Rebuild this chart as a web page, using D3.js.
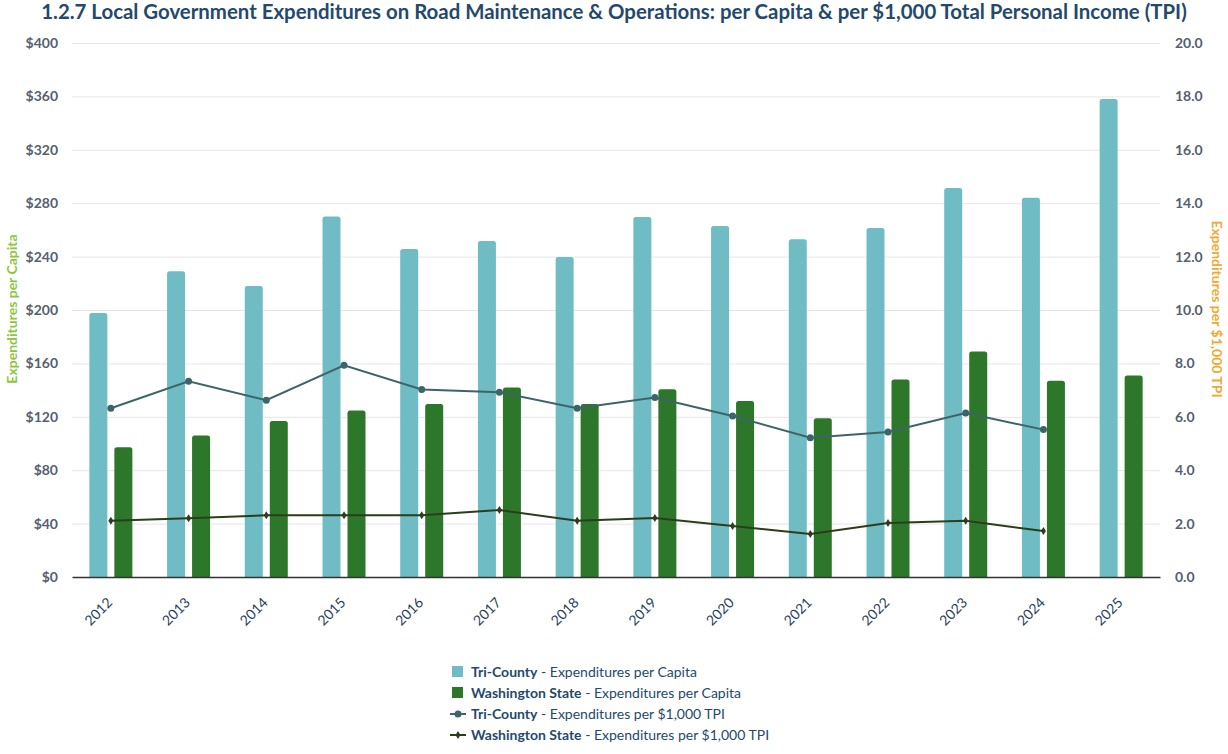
<!DOCTYPE html>
<html>
<head>
<meta charset="utf-8">
<script src="https://cdn.jsdelivr.net/npm/d3@7"></script>
<style>
  html, body { margin: 0; padding: 0; background: #fff; }
  svg { display: block; font-family: Lato, "Open Sans", sans-serif; }
</style>
</head>
<body>
<svg id="chart" width="1228" height="754"></svg>
<script>
const years = ["2012","2013","2014","2015","2016","2017","2018","2019","2020","2021","2022","2023","2024","2025"];
const triCountyPerCapita = [197.8, 229, 218, 270, 245.7, 251.7, 239.7, 269.7, 263, 253, 261.4, 291.4, 284, 358];
const waStatePerCapita   = [97.1, 106, 116.8, 124.8, 129.6, 142, 129.6, 140.6, 131.8, 119, 148, 169, 147, 151];
const triCountyPerTPI = [6.32, 7.33, 6.62, 7.93, 7.02, 6.92, 6.32, 6.72, 6.03, 5.22, 5.43, 6.14, 5.52, null];
const waStatePerTPI   = [2.11, 2.2, 2.31, 2.31, 2.31, 2.51, 2.11, 2.21, 1.91, 1.61, 2.02, 2.11, 1.72, null];
const leftTicks = [0, 40, 80, 120, 160, 200, 240, 280, 320, 360, 400];
const rightTicks = [0, 2, 4, 6, 8, 10, 12, 14, 16, 18, 20];
const titleText = "1.2.7 Local Government Expenditures on Road Maintenance & Operations: per Capita & per $1,000 Total Personal Income (TPI)";
const legendItems = [
  {bold: "Tri-County", rest: " - Expenditures per Capita", type: "bar", color: "#6fbcc4"},
  {bold: "Washington State", rest: " - Expenditures per Capita", type: "bar", color: "#2d772b"},
  {bold: "Tri-County", rest: " - Expenditures per $1,000 TPI", type: "line", color: "#3d6469", marker: "circle"},
  {bold: "Washington State", rest: " - Expenditures per $1,000 TPI", type: "line", color: "#2b3d1a", marker: "diamond"}
];

const svg = d3.select("#chart");
const m = {left: 72, right: 1160, top: 43, bottom: 577};
const x = d3.scaleBand().domain(years).range([m.left, m.right]).padding(0);
const yL = d3.scaleLinear().domain([0, 400]).range([m.bottom, m.top]);
const yR = d3.scaleLinear().domain([0, 20]).range([m.bottom, m.top]);
const tickColor = "#56606f";

// title
svg.append("text").attr("x", 614).attr("y", 19).attr("text-anchor", "middle")
  .attr("fill", "#24496b").attr("font-size", 20.4).attr("font-weight", 700)
  .text(titleText);

// gridlines
svg.append("g").selectAll("line").data(leftTicks.filter(d => d > 0)).join("line")
  .attr("x1", m.left).attr("x2", m.right)
  .attr("y1", d => yL(d) + 0.5).attr("y2", d => yL(d) + 0.5)
  .attr("stroke", "#e6e6e6").attr("stroke-width", 1);

// left axis
const gl = svg.append("g").attr("transform", `translate(${m.left},0)`)
  .call(d3.axisLeft(yL).tickValues(leftTicks).tickFormat(d => "$" + d).tickSize(0).tickPadding(14));
gl.select(".domain").remove();
gl.selectAll("text").attr("fill", tickColor).attr("font-size", 14).attr("font-weight", 700)
  .attr("font-family", "Lato, sans-serif");

// right axis
const gr = svg.append("g").attr("transform", `translate(${m.right},0)`)
  .call(d3.axisRight(yR).tickValues(rightTicks).tickFormat(d3.format(".1f")).tickSize(0).tickPadding(15));
gr.select(".domain").remove();
gr.selectAll("text").attr("fill", tickColor).attr("font-size", 14).attr("font-weight", 700)
  .attr("font-family", "Lato, sans-serif");

// axis titles
svg.append("text").attr("transform", `translate(17,309) rotate(-90)`).attr("text-anchor", "middle")
  .attr("fill", "#8cc63f").attr("font-size", 14).attr("font-weight", 700)
  .text("Expenditures per Capita");
svg.append("text").attr("transform", `translate(1212,309) rotate(90)`).attr("text-anchor", "middle")
  .attr("fill", "#f0a830").attr("font-size", 14).attr("font-weight", 700)
  .text("Expenditures per $1,000 TPI");

// bars
const barW = 18, gap = 7;
function roundTopPath(x0, y0, w, h, r) {
  r = Math.min(r, h);
  return `M${x0},${y0 + h}V${y0 + r}Q${x0},${y0} ${x0 + r},${y0}H${x0 + w - r}Q${x0 + w},${y0} ${x0 + w},${y0 + r}V${y0 + h}Z`;
}
const cx = d => x(d) + x.bandwidth() / 2;
svg.append("g").selectAll("path").data(years).join("path")
  .attr("d", (d, i) => roundTopPath(cx(d) - gap / 2 - barW, yL(triCountyPerCapita[i]), barW, yL(0) - yL(triCountyPerCapita[i]), 2.5))
  .attr("fill", "#6fbcc4");
svg.append("g").selectAll("path").data(years).join("path")
  .attr("d", (d, i) => roundTopPath(cx(d) + gap / 2, yL(waStatePerCapita[i]), barW, yL(0) - yL(waStatePerCapita[i]), 2.5))
  .attr("fill", "#2d772b");

// x axis
const gx = svg.append("g").attr("transform", `translate(0,${m.bottom})`)
  .call(d3.axisBottom(x).tickSize(0).tickPadding(0));
gx.select(".domain").attr("stroke", "#333").attr("stroke-width", 1.5);
gx.selectAll("text").attr("fill", "#2a3f5c").attr("font-size", 14)
  .attr("font-family", "Lato, sans-serif")
  .attr("text-anchor", "end").attr("x", 0).attr("y", 0).attr("dy", 0)
  .attr("transform", "translate(2.5,26.5) rotate(-45)");

// lines
function drawLine(vals, color, marker) {
  const pts = years.map((d, i) => [cx(d), vals[i]]).filter(p => p[1] != null);
  const line = d3.line().x(p => p[0]).y(p => yR(p[1]));
  svg.append("path").datum(pts).attr("d", line).attr("fill", "none")
    .attr("stroke", color).attr("stroke-width", 2);
  const g = svg.append("g");
  if (marker === "circle") {
    g.selectAll("circle").data(pts).join("circle")
      .attr("cx", p => p[0]).attr("cy", p => yR(p[1])).attr("r", 3.5).attr("fill", color);
  } else {
    g.selectAll("path").data(pts).join("path")
      .attr("transform", p => `translate(${p[0]},${yR(p[1])})`)
      .attr("d", "M0,-4L2.5,0L0,4L-2.5,0Z").attr("fill", color);
  }
}
drawLine(triCountyPerTPI, "#3d6469", "circle");
drawLine(waStatePerTPI, "#2b3d1a", "diamond");

// legend
const lg = svg.append("g");
const rowsY = [672, 693, 714, 735];
legendItems.forEach((it, i) => {
  const yy = rowsY[i];
  if (it.type === "bar") {
    lg.append("rect").attr("x", 452).attr("y", yy - 6).attr("width", 11).attr("height", 11).attr("fill", it.color);
  } else {
    lg.append("line").attr("x1", 450).attr("x2", 466).attr("y1", yy).attr("y2", yy)
      .attr("stroke", it.color).attr("stroke-width", 2);
    if (it.marker === "circle") lg.append("circle").attr("cx", 458).attr("cy", yy).attr("r", 3.5).attr("fill", it.color);
    else lg.append("path").attr("transform", `translate(458,${yy})`).attr("d", "M0,-4L2.5,0L0,4L-2.5,0Z").attr("fill", it.color);
  }
  const t = lg.append("text").attr("x", 471).attr("y", yy + 5).attr("font-size", 14).attr("fill", "#24496b");
  t.append("tspan").attr("font-weight", 700).text(it.bold);
  t.append("tspan").text(it.rest);
});
</script>
</body>
</html>
